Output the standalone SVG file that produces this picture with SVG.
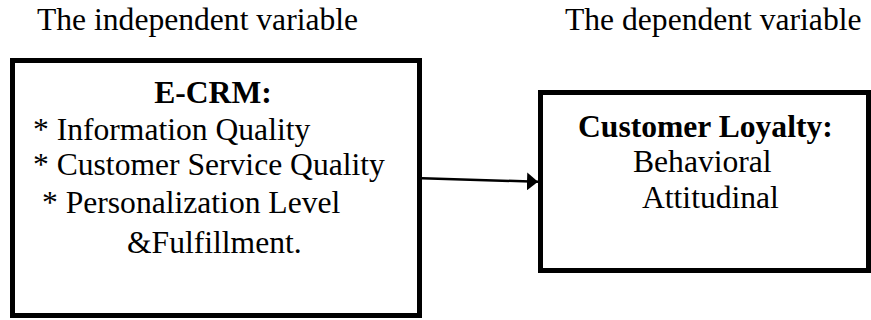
<svg xmlns="http://www.w3.org/2000/svg" width="871" height="320" viewBox="0 0 871 320">
<defs>
<style>
text{font-family:"Liberation Serif","Times New Roman",serif;font-size:31.6px;fill:#000}
.b{font-weight:bold}
.box{fill:#fff;stroke:#000;stroke-width:5}
.conn{stroke:#000;stroke-width:2.5;fill:none}
</style>
<marker id="ah" markerUnits="userSpaceOnUse" markerWidth="12" markerHeight="18" refX="11" refY="9" orient="auto">
<path d="M0,0 L11,9 L0,18 Z" fill="#000"/>
</marker>
</defs>
<rect width="871" height="320" fill="#fff"/>
<text x="37" y="30">The independent variable</text>
<text x="565" y="30">The dependent variable</text>
<g id="ecrm">
<rect class="box" x="12.5" y="60.5" width="407" height="255"/>
<text class="b" x="213" y="103" text-anchor="middle">E-CRM:</text>
<text x="33" y="140">* Information Quality</text>
<text x="33" y="175">* Customer Service Quality</text>
<text x="42" y="213">* Personalization Level</text>
<text x="127" y="253">&amp;Fulfillment.</text>
</g>
<g id="loyalty">
<rect class="box" x="540.5" y="92.5" width="328" height="178"/>
<text class="b" x="578" y="137">Customer Loyalty:</text>
<text x="633" y="172">Behavioral</text>
<text x="642" y="208">Attitudinal</text>
</g>
<g id="connectors">
<line class="conn" x1="422" y1="178.3" x2="538" y2="181.7" marker-end="url(#ah)"/>
</g>
</svg>
